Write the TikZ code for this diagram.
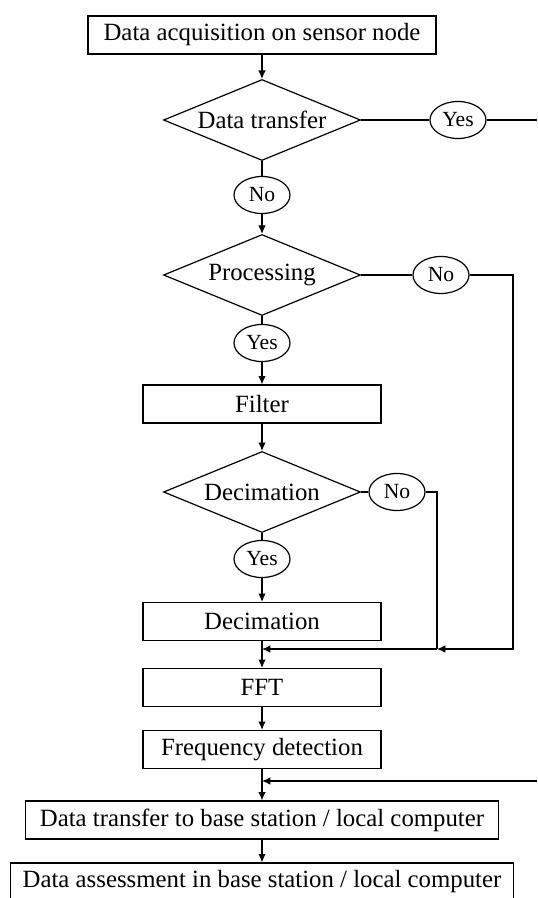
\documentclass[tikz,border=0pt]{standalone}
\usepackage{fontspec}
\setmainfont{Liberation Serif}
\usetikzlibrary{shapes.geometric, arrows.meta}

\begin{document}
\begin{tikzpicture}[x=0.5pt, y=-0.5pt, line width=0.6pt,
	box/.style = {draw, rectangle, inner sep=0pt, minimum height=19pt, font=\fontsize{12.4}{14}\selectfont},
	ask/.style = {draw, diamond, aspect=2.43, inner sep=0pt, minimum width=98.5pt, minimum height=40.5pt, font=\fontsize{12.4}{14}\selectfont},
	answer/.style = {draw, ellipse, inner sep=0pt, minimum width=28pt, minimum height=18.5pt, font=\fontsize{10.8}{12}\selectfont},
	arr/.style = {-{Latex[length=4.2pt, width=3.8pt]}}]
%		\draw (0,0) grid (537,898);
		\useasboundingbox (0,0) rectangle (537,898);
		\clip (0,0) rectangle (537,898);
		
		\node[box, minimum width=174pt] (acq) at (262,35) {Data acquisition on sensor node};
		\node[ask] (transfer) at (262,120) {Data transfer};
		\node[answer] (yesA) at (458,120) {Yes};
		\node[answer] (noA) at (262,195) {No};
		\node[ask] (proc) at (262,275) {Processing};
		\node[answer] (noB) at (441,275) {No};
		\node[answer] (yesB) at (262,343) {Yes};
		\node[box, minimum width=119pt] (filter) at (262,404) {Filter};
		\node[ask] (decq) at (262,492) {Decimation};
		\node[answer] (noC) at (397,492) {No};
		\node[answer] (yesC) at (262,559) {Yes};
		\node[box, minimum width=119pt] (decbox) at (262,621.5) {Decimation};
		\node[box, minimum width=119pt] (fft) at (262,687.5) {FFT};
		\node[box, minimum width=119pt] (freq) at (262,749.5) {Frequency detection};
		\node[box, minimum width=236.5pt] (sendbase) at (262,820) {Data transfer to base station / local computer};
		\node[box, minimum width=251.5pt] (assess) at (262,882) {Data assessment in base station / local computer};
		
		\coordinate (edgeA) at (537,120);
		\coordinate (edgeB) at (537,781);
		\coordinate (turnB) at (513,649);
		\coordinate (joinC) at (437,649);
		\coordinate (joinA) at (262,649);
		\coordinate (joinB) at (262,781);
		
		\draw[arr] (acq) -- (transfer);
		\draw (transfer) -- (yesA);
		\draw (yesA) -- (edgeA);
		\draw (transfer) -- (noA);
		\draw[arr] (noA) -- (proc);
		
		\draw (proc) -- (noB);
		\draw[arr] (noB) -| (turnB) -- (joinC);
		\draw (proc) -- (yesB);
		\draw[arr] (yesB) -- (filter);
		\draw[arr] (filter) -- (decq);
		
		\draw (decq) -- (noC);
		\draw (noC) -| (joinC);
		\draw[arr] (joinC) -- (joinA);
		\draw (decq) -- (yesC);
		\draw[arr] (yesC) -- (decbox);
		\draw (decbox) -- (joinA);
		\draw[arr] (joinA) -- (fft);
		\draw[arr] (fft) -- (freq);
		
		\draw (freq) -- (joinB);
		\draw[arr] (edgeB) -- (joinB);
		\draw[arr] (joinB) -- (sendbase);
		\draw[arr] (sendbase) -- (assess);
	\end{tikzpicture}
\end{document}
